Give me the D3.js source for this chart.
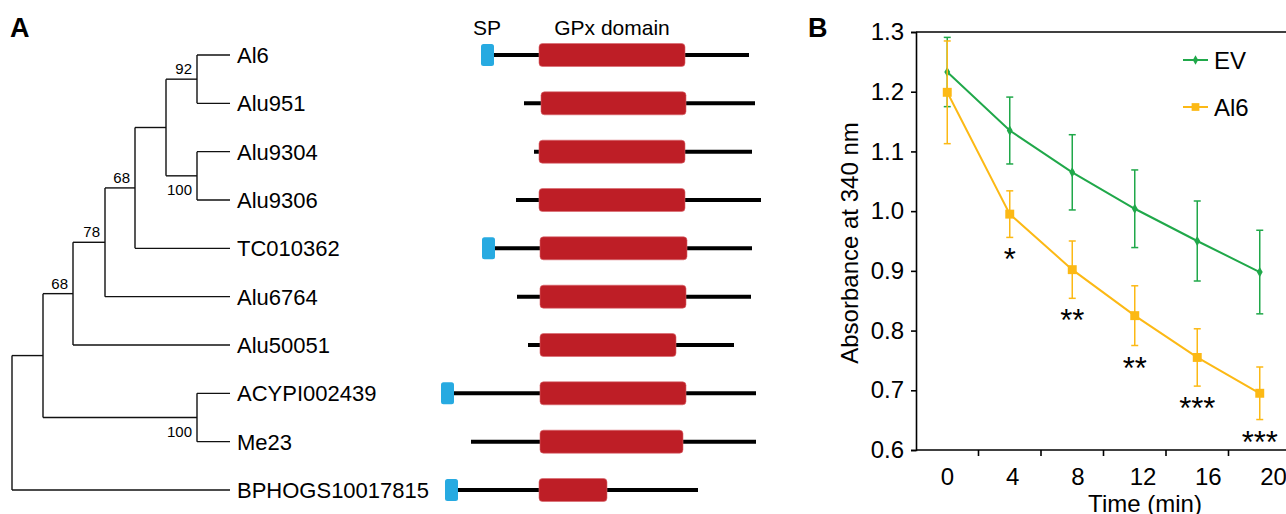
<!DOCTYPE html>
<html>
<head>
<meta charset="utf-8">
<script src="https://cdn.jsdelivr.net/npm/d3@7"></script>
<style>
  body { margin: 0; background: #fff; }
  svg { font-family: "Liberation Sans", Arial, sans-serif; }
</style>
</head>
<body>
<svg id="fig" width="1286" height="514"></svg>
<script>
// ---- panel A data ----
var leaves = ["Al6", "Alu951", "Alu9304", "Alu9306", "TC010362", "Alu6764",
              "Alu50051", "ACYPI002439", "Me23", "BPHOGS10017815"];

// tree as a flat table: id, parent, branch depth (from root), bootstrap
var treeIds     = ["root", "n1", "n2", "n3", "n4", "n5", "n6", "n7", "n8"].concat(leaves);
var treeParents = ["", "root", "n1", "n2", "n3", "n4", "n5", "n5", "n1",
                   "n6", "n6", "n7", "n7", "n4", "n3", "n2", "n8", "n8", "root"];
var treeDepths  = [0, 31, 61, 93, 123, 154, 185, 185, 185,
                   218, 218, 218, 218, 218, 218, 218, 218, 218, 218];
var bootstraps  = {n2: ["68", "up"], n3: ["78", "up"], n4: ["68", "up"],
                   n6: ["92", "up"], n7: ["100", "down"], n8: ["100", "down"]};

// protein architecture, aligned positions
var protStart = [40, 83, 93, 75, 41, 76, 87, 0, 30, 4];
var protEnd   = [308, 314, 311, 320, 311, 310, 293, 315, 315, 257];
var hasSP     = [true, false, false, false, true, false, false, true, false, true];
var spLen     = 13;
var gpxStart  = [98, 100, 98, 98, 99, 99, 99, 99, 99, 98];
var gpxEnd    = [244, 245, 244, 244, 246, 245, 235, 245, 242, 166];

// ---- panel B data ----
var times = ["0", "4", "8", "12", "16", "20"];
var evMean = [1.233, 1.135, 1.065, 1.004, 0.950, 0.898];
var evErr  = [0.058, 0.056, 0.063, 0.065, 0.067, 0.070];
var al6Mean = [1.199, 0.995, 0.902, 0.825, 0.755, 0.695];
var al6Err  = [0.086, 0.039, 0.048, 0.050, 0.048, 0.044];
var stars = ["", "*", "**", "**", "***", "***"];
var yTicks = [0.6, 0.7, 0.8, 0.9, 1.0, 1.1, 1.2, 1.3];
var xTickLabels = [0, 4, 8, 12, 16, 20];

var GREEN = "#20a84a", YELLOW = "#fcb915", RED = "#be1e26", BLUE = "#27aae1";

var svg = d3.select("#fig");

// ================= Panel A =================
svg.append("text").attr("x", 10).attr("y", 37).text("A")
  .style("font-size", "27px").style("font-weight", "bold");

var yLeaf = d3.scalePoint().domain(leaves).range([55, 490]);
var xTree = d3.scaleLinear().domain([0, 218]).range([12, 230]);

var root = d3.stratify()
  .id(function(d) { return d.id; })
  .parentId(function(d) { return d.parent || null; })(
    treeIds.map(function(id, i) { return {id: id, parent: treeParents[i], depth: treeDepths[i]}; }));

// y of internal node = middle of its children
root.eachAfter(function(n) {
  n.px = xTree(n.data.depth);
  if (n.children) {
    var ys = n.children.map(function(c) { return c.py; });
    n.py = (d3.min(ys) + d3.max(ys)) / 2;
  } else {
    n.py = yLeaf(n.id);
  }
});

var gTree = svg.append("g").attr("fill", "none").attr("stroke", "#111").attr("stroke-width", 1.4);
root.each(function(n) {
  if (n.children) {
    var ys = n.children.map(function(c) { return c.py; });
    gTree.append("line").attr("x1", n.px).attr("x2", n.px)
      .attr("y1", d3.min(ys)).attr("y2", d3.max(ys));
    n.children.forEach(function(c) {
      gTree.append("line").attr("x1", n.px).attr("x2", c.px)
        .attr("y1", c.py).attr("y2", c.py);
    });
  }
});

// bootstrap values
root.each(function(n) {
  var b = bootstraps[n.id];
  if (!b) return;
  svg.append("text")
    .attr("x", n.px - 5)
    .attr("y", b[1] == "up" ? n.py - 5 : n.py + 19)
    .attr("text-anchor", "end")
    .style("font-size", "15px")
    .text(b[0]);
});

// leaf names
svg.selectAll("text.leaf").data(leaves).enter().append("text")
  .attr("class", "leaf")
  .attr("x", xTree(218) + 7)
  .attr("y", function(d) { return yLeaf(d); })
  .attr("dy", "0.36em")
  .style("font-size", "22px")
  .text(function(d) { return d; });

// protein architecture
var xProt = d3.scaleLinear().domain([0, 320]).range([441, 761]);
var gProt = svg.append("g");
leaves.forEach(function(name, i) {
  var y = yLeaf(name);
  gProt.append("line")
    .attr("x1", xProt(protStart[i])).attr("x2", xProt(protEnd[i]))
    .attr("y1", y).attr("y2", y)
    .attr("stroke", "#000").attr("stroke-width", 4);
  gProt.append("rect")
    .attr("x", xProt(gpxStart[i])).attr("width", xProt(gpxEnd[i]) - xProt(gpxStart[i]))
    .attr("y", y - 11.5).attr("height", 23)
    .attr("rx", 3.5)
    .attr("fill", RED).attr("stroke", "#d9656b").attr("stroke-width", 0.6);
  if (hasSP[i]) {
    gProt.append("rect")
      .attr("x", xProt(protStart[i])).attr("width", xProt(protStart[i] + spLen) - xProt(protStart[i]))
      .attr("y", y - 11).attr("height", 22)
      .attr("rx", 2.5)
      .attr("fill", BLUE);
  }
});
svg.append("text").attr("x", xProt(46)).attr("y", 35).attr("text-anchor", "middle")
  .style("font-size", "21px").text("SP");
svg.append("text").attr("x", xProt(171)).attr("y", 35).attr("text-anchor", "middle")
  .style("font-size", "21px").text("GPx domain");

// ================= Panel B =================
svg.append("text").attr("x", 808).attr("y", 37).text("B")
  .style("font-size", "27px").style("font-weight", "bold");

var x = d3.scaleBand().domain(times).range([916, 1291]);
var y = d3.scaleLinear().domain([0.6, 1.3]).range([450, 32]);
var xLab = d3.scaleLinear().domain([0, 20]).range([947, 1273]);

var gB = svg.append("g");

// frame: left axis, top line, bottom axis
gB.append("g").attr("transform", "translate(916,0)")
  .call(d3.axisLeft(y).tickValues(yTicks).tickFormat(d3.format(".1f")).tickSize(5).tickPadding(7))
  .call(function(g) {
    g.select(".domain").attr("stroke-width", 1.6);
    g.selectAll(".tick line").attr("stroke-width", 1.6);
    g.selectAll("text").style("font-size", "24px").style("font-family", "Liberation Sans, Arial, sans-serif").attr("fill", "#000");
  });
gB.append("line").attr("x1", 916).attr("x2", 1286).attr("y1", y(1.3)).attr("y2", y(1.3))
  .attr("stroke", "#000").attr("stroke-width", 1.6);
gB.append("line").attr("x1", 916).attr("x2", 1286).attr("y1", y(0.6)).attr("y2", y(0.6))
  .attr("stroke", "#000").attr("stroke-width", 1.6);

// tick marks at band edges
gB.selectAll("line.xt").data(times.slice(1)).enter().append("line")
  .attr("x1", function(d) { return x(d); }).attr("x2", function(d) { return x(d); })
  .attr("y1", y(0.6)).attr("y2", y(0.6) + 6)
  .attr("stroke", "#000").attr("stroke-width", 1.6);

// x tick labels
gB.append("g").attr("transform", "translate(0," + y(0.6) + ")")
  .call(d3.axisBottom(xLab).tickValues(xTickLabels).tickSize(0).tickPadding(18))
  .call(function(g) {
    g.select(".domain").remove();
    g.selectAll("text").style("font-size", "24px").style("font-family", "Liberation Sans, Arial, sans-serif").attr("fill", "#000");
  });

svg.append("text").attr("x", 1145).attr("y", 512).attr("text-anchor", "middle")
  .style("font-size", "24px").text("Time (min)");
svg.append("text").attr("transform", "translate(858,243) rotate(-90)")
  .attr("text-anchor", "middle").style("font-size", "24px").text("Absorbance at 340 nm");

function cx(i) { return x(times[i]) + x.bandwidth() / 2; }

function drawSeries(mean, err, color, marker) {
  var g = gB.append("g");
  mean.forEach(function(m, i) {
    var x0 = cx(i);
    g.append("line").attr("x1", x0).attr("x2", x0)
      .attr("y1", y(m - err[i])).attr("y2", y(m + err[i]))
      .attr("stroke", color).attr("stroke-width", 1.5);
    [m - err[i], m + err[i]].forEach(function(v) {
      g.append("line").attr("x1", x0 - 3.5).attr("x2", x0 + 3.5)
        .attr("y1", y(v)).attr("y2", y(v))
        .attr("stroke", color).attr("stroke-width", 1.5);
    });
  });
  g.append("path")
    .attr("d", d3.line().x(function(d, i) { return cx(i); }).y(function(d) { return y(d); })(mean))
    .attr("fill", "none").attr("stroke", color).attr("stroke-width", 2);
  g.selectAll("path.m").data(mean).enter().append("path")
    .attr("class", "m")
    .attr("transform", function(d, i) { return "translate(" + cx(i) + "," + y(d) + ")"; })
    .attr("d", d3.symbol().type(marker == "sq" ? d3.symbolSquare : d3.symbolDiamond).size(marker == "sq" ? 80 : 30))
    .attr("fill", color);
}
drawSeries(evMean, evErr, GREEN, "dia");
drawSeries(al6Mean, al6Err, YELLOW, "sq");

// significance stars, below the Al6 error bars
gB.selectAll("text.star").data(stars).enter().append("text")
  .attr("class", "star")
  .attr("x", function(d, i) { return cx(i); })
  .attr("y", function(d, i) { return y(al6Mean[i] - al6Err[i]) + 33; })
  .attr("text-anchor", "middle")
  .style("font-size", "31px")
  .text(function(d) { return d; });

// legend
var legend = [["EV", GREEN, "dia"], ["Al6", YELLOW, "sq"]];
legend.forEach(function(l, i) {
  var ly = 60 + i * 47;
  gB.append("line").attr("x1", 1183).attr("x2", 1208).attr("y1", ly).attr("y2", ly)
    .attr("stroke", l[1]).attr("stroke-width", 2);
  gB.append("path").attr("transform", "translate(1195.5," + ly + ")")
    .attr("d", d3.symbol().type(l[2] == "sq" ? d3.symbolSquare : d3.symbolDiamond).size(l[2] == "sq" ? 60 : 25))
    .attr("fill", l[1]);
  gB.append("text").attr("x", 1214).attr("y", ly).attr("dy", "0.36em")
    .style("font-size", "24px").text(l[0]);
});
</script>
</body>
</html>
